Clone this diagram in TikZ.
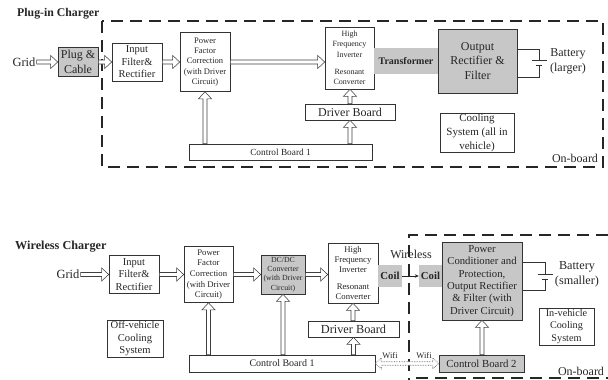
\documentclass[tikz,border=0pt]{standalone}
\usepackage{fontspec}
\setmainfont{Liberation Serif}
\usetikzlibrary{arrows.meta,calc}
\newcommand\fz[2]{\fontsize{#1}{#2}\selectfont}
\tikzset{
  box/.style={draw=black!80, line width=0.6pt, fill=white, inner sep=0pt, align=center, text=black!85},
  gbox/.style={box, fill=black!22},
  gfill/.style={fill=black!22, inner sep=0pt, align=center, text=black!85},
  lbl/.style={inner sep=1pt, align=center, text=black!85},
  harrow/.style={draw=black!75, line width=0.55pt, fill=white, line join=miter, to path={
    let \p1=(\tikztostart), \p2=(\tikztotarget), \n1={veclen(\x2-\x1,\y2-\y1)},
        \n2={(\x2-\x1)/\n1}, \n3={(\y2-\y1)/\n1} in
    ({\x1-2*\n3},{\y1+2*\n2})
    -- ({\x2-7*\n2-2*\n3},{\y2-7*\n3+2*\n2})
    -- ({\x2-7*\n2-6.5*\n3},{\y2-7*\n3+6.5*\n2})
    -- (\x2,\y2)
    -- ({\x2-7*\n2+6.5*\n3},{\y2-7*\n3-6.5*\n2})
    -- ({\x2-7*\n2+2*\n3},{\y2-7*\n3-2*\n2})
    -- ({\x1+2*\n3},{\y1-2*\n2}) -- cycle}},
  warrow/.style={draw=black!65, line width=0.65pt, densely dotted, fill=white, to path={
    let \p1=(\tikztostart), \p2=(\tikztotarget), \n1={veclen(\x2-\x1,\y2-\y1)},
        \n2={(\x2-\x1)/\n1}, \n3={(\y2-\y1)/\n1} in
    (\x1,\y1)
    -- ({\x1+6*\n2-5.5*\n3},{\y1+6*\n3+5.5*\n2})
    -- ({\x1+6*\n2-1.8*\n3},{\y1+6*\n3+1.8*\n2})
    -- ({\x2-6*\n2-1.8*\n3},{\y2-6*\n3+1.8*\n2})
    -- ({\x2-6*\n2-5.5*\n3},{\y2-6*\n3+5.5*\n2})
    -- (\x2,\y2)
    -- ({\x2-6*\n2+5.5*\n3},{\y2-6*\n3-5.5*\n2})
    -- ({\x2-6*\n2+1.8*\n3},{\y2-6*\n3-1.8*\n2})
    -- ({\x1+6*\n2+1.8*\n3},{\y1+6*\n3-1.8*\n2})
    -- ({\x1+6*\n2+5.5*\n3},{\y1+6*\n3-5.5*\n2}) -- cycle}},
  thin/.style={draw=black!85, line width=0.6pt, -{Stealth[length=4pt, width=3.5pt]}},
  wire/.style={draw=black!80, line width=0.6pt},
  dashbox/.style={draw=black!85, line width=1.3pt, dash pattern=on 12pt off 7pt},
}
\begin{document}
\begin{tikzpicture}[x=1pt, y=-1pt]
\useasboundingbox (0,0) rectangle (608,380);

% ================= Plug-in Charger =================
\node[lbl, anchor=west, font=\bfseries\fz{11.8}{13}] (t1) at (16,14) {Plug-in Charger};
\draw[dashbox] (102,21) rectangle (603,167);

\node[lbl, font=\fz{12.5}{14}] (grid1) at (24,62) {Grid};
\node[gbox, minimum width=40, minimum height=29, font=\fz{12}{15}] (plug) at (78,62) {Plug \&\\Cable};
\node[box, minimum width=50, minimum height=38, font=\fz{10.5}{12.5}] (inf1) at (137,62) {Input\\Filter\&\\Rectifier};
\node[box, minimum width=50, minimum height=59, font=\fz{8.5}{10.3}] (pfc1) at (205,62) {Power\\Factor\\Correction\\(with Driver\\Circuit)};
\node[box, minimum width=49, minimum height=62, font=\fz{8}{10.5}] (hf1) at (349.5,58) {High\\Frequency\\Inverter\\[6.5pt]Resonant\\Converter};
\node[gfill, minimum width=64, minimum height=26, font=\bfseries\fz{10}{12}] (tr) at (406,61) {Transformer};
\node[gbox, minimum width=79, minimum height=64, font=\fz{12}{14.5}] (out) at (477.5,61) {Output\\Rectifier \&\\Filter};
\node[box, minimum width=90, minimum height=16, font=\fz{12}{14}] (db1) at (350,112) {Driver Board};
\node[box, minimum width=183, minimum height=16, font=\fz{9.3}{11}] (cb1) at (280.5,152) {Control Board 1};
\node[box, minimum width=74, minimum height=39, font=\fz{11}{14}] (cool1) at (477,132.5) {Cooling\\System (all in\\vehicle)};
\node[lbl, font=\fz{12}{15}] (bat1t) at (568,61) {Battery\\(larger)};
\node[lbl, font=\fz{12}{14}] (ob1) at (575,158) {On-board};

\draw[harrow] (grid1.east) to (plug.west);
\draw[harrow] (plug.east) to (inf1.west);
\draw[harrow] (inf1.east) to (pfc1.west);
\draw[harrow] (pfc1.east) to (pfc1.east -| hf1.west);
\draw[harrow] (pfc1.south |- cb1.north) to (pfc1.south);
\draw[harrow] (db1.south |- cb1.north) to (db1.south);
\draw[harrow] (db1.north) to (hf1.south -| db1.north);

% battery (larger)
\coordinate (b1p) at (539,60);
\coordinate (b1n) at (539,65);
\draw[wire] (out.east |- 0,49) -- (539,49) -- (b1p);
\draw[wire] (out.east |- 0,77) -- (539,77) -- (b1n);
\draw[wire] (531.5,60) -- (546.5,60);
\draw[wire] (536,65) -- (542,65);

% ================= Wireless Charger =================
\node[lbl, anchor=west, font=\bfseries\fz{12.2}{14}] (t2) at (14,247) {Wireless Charger};
\draw[dashbox] (608,235) -- (409,235) -- (409,380);
\draw[dashbox] (416,378) -- (608,378);

\node[lbl, font=\fz{12.5}{14}] (grid2) at (68,274.5) {Grid};
\node[box, minimum width=50, minimum height=38, font=\fz{10.5}{12.5}] (inf2) at (134,274.5) {Input\\Filter\&\\Rectifier};
\node[box, minimum width=49, minimum height=56, font=\fz{8.7}{10.7}] (pfc2) at (208.5,274.5) {Power\\Factor\\Correction\\(with Driver\\Circuit)};
\node[gbox, minimum width=44, minimum height=39, font=\fz{7.8}{9.3}] (dc) at (283,274.5) {DC/DC\\Converter\\(with Driver\\Circuit)};
\node[box, minimum width=50, minimum height=60, font=\fz{8.7}{10}] (hf2) at (353,273) {High\\Frequency\\Inverter\\[7pt]Resonant\\Converter};
\node[gfill, minimum width=24, minimum height=22, font=\bfseries\fz{10.7}{12}] (coil1) at (390,276) {Coil};
\node[gfill, minimum width=23, minimum height=22, font=\bfseries\fz{10.7}{12}] (coil2) at (430.5,276) {Coil};
\node[gbox, minimum width=80, minimum height=78, font=\fz{10.7}{12.4}] (pc) at (482,281) {Power\\Conditioner and\\Protection,\\Output Rectifier\\\& Filter (with\\Driver Circuit)};
\node[lbl, font=\fz{12}{14}] (wl) at (411,254) {Wireless};
\node[box, minimum width=91, minimum height=16, font=\fz{12.3}{14}] (db2) at (353.5,329) {Driver Board};
\node[box, minimum width=186, minimum height=17, font=\fz{10}{12}] (cb1b) at (282,363.5) {Control Board 1};
\node[gbox, minimum width=85, minimum height=17, font=\fz{10.8}{12}] (cb2) at (481.5,363.5) {Control Board 2};
\node[box, minimum width=55, minimum height=37, font=\fz{10.2}{12.5}] (cool2) at (566.5,326.5) {In-vehicle\\Cooling\\System};
\node[box, minimum width=56, minimum height=37, font=\fz{10.6}{12.5}] (offc) at (135,338.5) {Off-vehicle\\Cooling\\System};
\node[lbl, font=\fz{12.2}{15}] (bat2t) at (577,274.5) {Battery\\(smaller)};
\node[lbl, font=\fz{12}{14}] (ob2) at (581,371) {On-board};
\node[lbl, font=\fz{8.5}{9}] (wf1) at (390,356) {Wifi};
\node[lbl, font=\fz{8.5}{9}] (wf2) at (424,356) {Wifi};

\draw[harrow] (grid2.east) to (inf2.west);
\draw[harrow] (inf2.east) to (pfc2.west);
\draw[harrow] (pfc2.east) to (dc.west);
\draw[harrow] (dc.east) to (dc.east -| hf2.west);
\draw[thin] (coil1.east) -- (coil2.west);
\draw[harrow] (pfc2.south |- cb1b.north) to (pfc2.south);
\draw[harrow] (dc.south |- cb1b.north) to (dc.south);
\draw[harrow] (db2.south |- cb1b.north) to (db2.south);
\draw[harrow] (hf2.south |- db2.north) to (hf2.south);
\draw[harrow] (pc.south |- cb2.north) to (pc.south);
\draw[warrow] (cb1b.east) to (cb2.west);

% battery (smaller)
\coordinate (b2p) at (545,274);
\coordinate (b2n) at (545,279);
\draw[wire] (pc.east |- 0,262) -- (545,262) -- (b2p);
\draw[wire] (pc.east |- 0,290) -- (545,290) -- (b2n);
\draw[wire] (537.5,274) -- (552.5,274);
\draw[wire] (542,279) -- (548,279);
\end{tikzpicture}
\end{document}
